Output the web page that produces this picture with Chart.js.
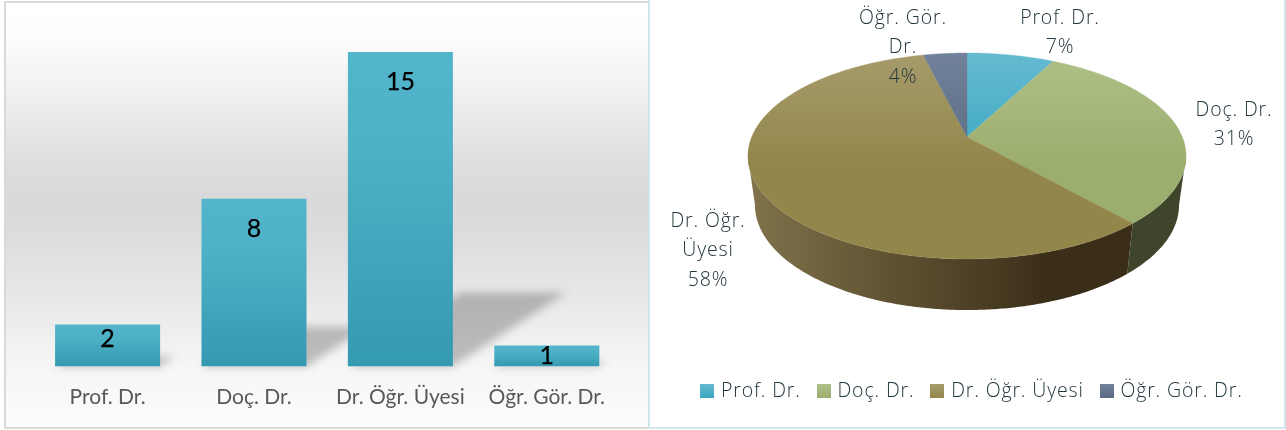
<!DOCTYPE html>
<html><head><meta charset="utf-8">
<script src="https://cdn.jsdelivr.net/npm/chart.js@4"></script>
<style>
html,body{margin:0;padding:0;background:#fff;width:1286px;height:430px;overflow:hidden}
#lf{position:absolute;left:4px;top:1px;width:642px;height:424px;border:solid #d9d9d9;border-width:2px 0 2px 2px;
 background:linear-gradient(180deg,#fff 0%,#fdfdfd 8%,#ebebeb 26%,#dedede 38%,#d9d9d9 46%,#dcdcdc 54%,#e8e8e8 70%,#f6f6f6 86%,#fcfcfc 100%)}
#rf{position:absolute;left:648px;top:0;width:634px;height:427px;border:solid #cfe6ea;border-width:0 2px 2px 2px}
canvas{position:absolute;top:0}
#c1{left:0}#c2{left:650px}
</style></head><body>
<div id="lf"></div><div id="rf"></div>
<canvas id="c1" width="650" height="430"></canvas>
<canvas id="c2" width="636" height="430"></canvas>
<script>
const categories = ['Prof. Dr.', 'Doç. Dr.', 'Dr. Öğr. Üyesi', 'Öğr. Gör. Dr.'];
const barValues = [2, 8, 15, 1];
const pieValues = [2, 8, 15, 1];
const piePercentLabels = ['7%', '31%', '58%', '4%'];
const yMax = 15;

/* ---------- bar chart ---------- */
const barFont = '"Lato"';
const shadowPlugin = {
  id: 'barShadow',
  beforeDatasetsDraw(chart) {
    const {ctx} = chart, meta = chart.getDatasetMeta(0);
    ctx.save();
    ctx.filter = 'blur(4px)';
    ctx.fillStyle = 'rgba(0,0,0,0.23)';
    meta.data.forEach(b => {
      const h = b.base - b.y, w = b.width, l = b.x - w / 2, r = b.x + w / 2;
      ctx.beginPath();
      ctx.moveTo(l, b.base);
      ctx.lineTo(r, b.base);
      ctx.lineTo(r + h * 0.36, b.base - h * 0.235);
      ctx.lineTo(l + h * 0.36, b.base - h * 0.235);
      ctx.closePath();
      ctx.fill();
    });
    ctx.restore();
  },
  afterDatasetsDraw(chart) {
    const {ctx} = chart, meta = chart.getDatasetMeta(0);
    ctx.save();
    ctx.font = '400 25px ' + barFont;
    ctx.fillStyle = '#000';
    ctx.strokeStyle = '#000';
    ctx.lineWidth = 0.25;
    ctx.textAlign = 'center';
    ctx.textBaseline = 'middle';
    meta.data.forEach((b, i) => {
      const h = b.base - b.y, y = b.y + Math.min(30, 6 + h * 0.19);
      ctx.fillText(String(barValues[i]), b.x, y);
      ctx.strokeText(String(barValues[i]), b.x, y);
    });
    ctx.restore();
  }
};
new Chart(document.getElementById('c1'), {
  type: 'bar',
  data: {
    labels: categories,
    datasets: [{
      data: barValues,
      barPercentage: 0.7175,
      categoryPercentage: 1,
      backgroundColor(c) {
        const chart = c.chart;
        if (!chart.chartArea || c.parsed === undefined) return '#45a8bf';
        const y = chart.scales.y, g = chart.ctx.createLinearGradient(0, y.getPixelForValue(c.parsed.y), 0, y.getPixelForValue(0));
        g.addColorStop(0, '#52b5cb');
        g.addColorStop(0.3, '#4eb1c8');
        g.addColorStop(1, '#349ab1');
        return g;
      }
    }]
  },
  options: {
    responsive: false,
    animation: false,
    layout: {padding: {left: 34.4, right: 30, top: 52, bottom: 0}},
    plugins: {legend: {display: false}, tooltip: {enabled: false}},
    scales: {
      y: {display: false, min: 0, max: yMax},
      x: {
        grid: {display: false},
        border: {display: false},
        afterFit(a) { a.height = 63.5; },
        ticks: {color: '#595959', font: {family: barFont, size: 21}, padding: 10, maxRotation: 0, autoSkip: false}
      }
    }
  },
  plugins: [shadowPlugin]
});

/* ---------- pie chart with tilted projection ---------- */
const pieFont = '"Open Sans"';
const topShades = [['#66bad0', '#3aa8c2'], ['#afc087', '#9cae6e'], ['#a69b6b', '#93864b'], ['#71829a', '#5a6a84']];
const wallShades = [['#2f7f93', '#2f7f93'], ['#474f30', '#3e452a'], ['#80724a', '#3a2e18'], ['#47536a', '#47536a']];
const textColor = '#22363e';
const PROJ = {
  cx: 317,
  top: {y0: 137, a: 99.5, b: 215.3, k: -0.1845},
  bot: {y0: 185.7, a: 101.4, b: 208.4, k: -0.1845}
};
function proj(plane, ang) {
  const u = Math.cos(ang), v = Math.sin(ang), d = 1 + plane.k * v;
  return [PROJ.cx + plane.b * u / d, plane.y0 + plane.a * v / d];
}
function tracePlaneArc(ctx, plane, a0, a1) {
  const n = Math.max(2, Math.ceil(Math.abs(a1 - a0) / 0.01));
  for (let i = 0; i <= n; i++) {
    const p = proj(plane, a0 + (a1 - a0) * i / n);
    ctx.lineTo(p[0], p[1]);
  }
}
Chart.ArcElement.prototype.draw = function (ctx) {
  const i = this.$context ? this.$context.dataIndex : 0;
  const g = ctx.createLinearGradient(0, 53, 0, 165);
  g.addColorStop(0, topShades[i][0]);
  g.addColorStop(1, topShades[i][1]);
  ctx.save();
  ctx.fillStyle = g;
  ctx.beginPath();
  ctx.moveTo(PROJ.cx, PROJ.top.y0);
  tracePlaneArc(ctx, PROJ.top, this.startAngle, this.endAngle);
  ctx.closePath();
  ctx.fill();
  ctx.strokeStyle = g; ctx.lineWidth = 0.4; ctx.stroke();
  ctx.restore();
};
function legendSwatch(i) {
  const cv = document.createElement('canvas');
  cv.width = 14; cv.height = 14;
  const c = cv.getContext('2d'), g = c.createLinearGradient(0, 0, 0, 14);
  g.addColorStop(0, topShades[i][0]);
  g.addColorStop(1, topShades[i][1]);
  c.fillStyle = g;
  c.fillRect(0, 0, 14, 14);
  return cv;
}
const wallPlugin = {
  id: 'pieWalls',
  beforeLayout(chart) { chart.ctx.letterSpacing = '0.85px'; },
  beforeDraw(chart) { chart.ctx.letterSpacing = '0.85px'; },
  beforeDatasetsDraw(chart) {
    const {ctx} = chart, meta = chart.getDatasetMeta(0);
    const lo = Math.asin(0.1845), hi = Math.PI - lo;
    ctx.save();
    meta.data.forEach((arc, i) => {
      const a0 = Math.max(arc.startAngle, lo), a1 = Math.min(arc.endAngle, hi);
      if (a1 <= a0) return;
      const g = ctx.createLinearGradient(100, 0, 400, 0);
      g.addColorStop(0, wallShades[i][0]);
      g.addColorStop(1, wallShades[i][1]);
      ctx.fillStyle = g;
      ctx.beginPath();
      tracePlaneArc(ctx, PROJ.top, a0, a1);
      tracePlaneArc(ctx, PROJ.bot, a1, a0);
      ctx.closePath();
      ctx.fill();
    });
    ctx.restore();
  },
  afterDraw(chart) {
    const {ctx} = chart;
    const spots = [
      {x: 410, y: 18, t: ['Prof. Dr.', piePercentLabels[0]]},
      {x: 584, y: 110, t: ['Doç. Dr.', piePercentLabels[1]]},
      {x: 58, y: 221, t: ['Dr. Öğr.', 'Üyesi', piePercentLabels[2]]},
      {x: 253, y: 18, t: ['Öğr. Gör.', 'Dr.', piePercentLabels[3]]}
    ];
    ctx.save();
    ctx.font = '300 19.5px ' + pieFont;
    ctx.fillStyle = textColor;
    ctx.textAlign = 'center';
    ctx.textBaseline = 'middle';
    spots.forEach(s => s.t.forEach((l, j) => ctx.fillText(l, s.x, s.y + j * 29.5)));
    ctx.restore();
  }
};
new Chart(document.getElementById('c2'), {
  type: 'pie',
  data: {labels: categories, datasets: [{data: pieValues, backgroundColor: topShades.map(s => s[1]), borderWidth: 0}]},
  options: {
    responsive: false,
    animation: false,
    layout: {padding: {left: 10, right: 0, top: 0, bottom: 19}},
    plugins: {
      tooltip: {enabled: false},
      legend: {
        position: 'bottom',
        labels: {
          color: textColor,
          font: {family: pieFont, size: 19.5, weight: 300},
          usePointStyle: true, pointStyleWidth: 8, boxHeight: 14, padding: 19,
          generateLabels() {
            return categories.map((c, i) => ({text: c, pointStyle: legendSwatch(i), fillStyle: topShades[i][1], strokeStyle: 'rgba(0,0,0,0)', lineWidth: 0, fontColor: textColor, index: i}));
          }
        }
      }
    }
  },
  plugins: [wallPlugin]
});
</script>
</body></html>
